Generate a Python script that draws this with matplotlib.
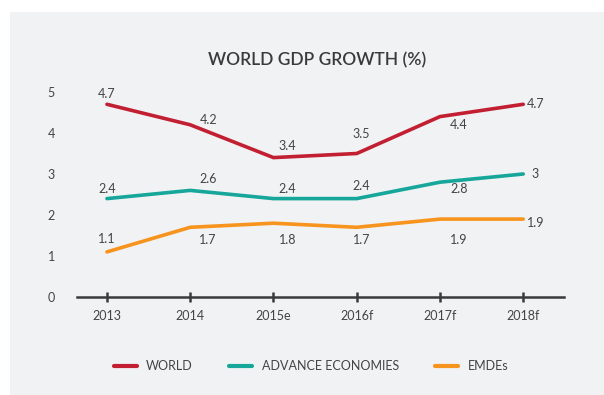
import matplotlib
matplotlib.use("Agg")
import matplotlib.pyplot as plt
from matplotlib.patches import Rectangle

# ---- data ----
years = ["2013", "2014", "2015e", "2016f", "2017f", "2018f"]
world = [4.7, 4.2, 3.4, 3.5, 4.4, 4.7]
advanced = [2.4, 2.6, 2.4, 2.4, 2.8, 3.0]
emdes = [1.1, 1.7, 1.8, 1.7, 1.9, 1.9]
series_names = ["WORLD", "ADVANCE ECONOMIES", "EMDEs"]
y_ticks = [0, 1, 2, 3, 4, 5]

# ---- styling ----
plt.rcParams["font.family"] = ["Lato", "DejaVu Sans"]
BG = "#f1f2f4"
TEXT = "#444444"
colors = ["#c21f32", "#17a79a", "#f7941e"]

# label offsets (pixels) relative to each point
offsets = [
    [(0, 10, "center"), (18, 5, "center"), (14, 12, "center"), (5, 19, "center"), (19, -8, "center"), (4, 0, "left")],
    [(0, 10, "center"), (18, 11, "center"), (14, 10, "center"), (5, 13, "center"), (19, -7, "center"), (8, 0, "left")],
    [(0, 13, "center"), (18, -13, "center"), (14, -17, "center"), (5, -13, "center"), (19, -21, "center"), (4, -4, "left")],
]

W, H = 604, 395
fig = plt.figure(figsize=(W / 100, H / 100), dpi=100)
fig.patch.set_facecolor("white")
fig.patches.append(Rectangle((10 / W, 0), 1 - 10 / W, 1 - 12 / H,
                             transform=fig.transFigure, facecolor=BG,
                             edgecolor="none", zorder=-10))

ax_left, ax_right = 77 / W, 564 / W
ax_bottom = (H - 297) / H
ax_top = (H - (297 - 5.2 * 41)) / H
ax = fig.add_axes([ax_left, ax_bottom, ax_right - ax_left, ax_top - ax_bottom])
ax.set_facecolor("none")

x = list(range(len(years)))
for vals, name, col, offs in zip([world, advanced, emdes], series_names, colors, offsets):
    ax.plot(x, vals, color=col, lw=2.6, solid_capstyle="round",
            solid_joinstyle="miter", label=name, zorder=3)
    for xi, v, (dx, dy, ha) in zip(x, vals, offs):
        txt = f"{v:g}"
        ax.annotate(txt, (xi, v), xytext=(dx, dy), textcoords="offset pixels",
                    ha=ha, va="center", fontsize=9, color=TEXT)

ax.set_xlim(-0.36, 5.49)
ax.set_ylim(0, 5.2)
ax.set_xticks(x)
ax.set_xticklabels(years)
ax.set_yticks(y_ticks)
ax.set_yticklabels([str(t) for t in y_ticks])

for s in ["top", "right", "left"]:
    ax.spines[s].set_visible(False)
ax.spines["bottom"].set_color("#3a3a3a")
ax.spines["bottom"].set_linewidth(1.8)
ax.tick_params(axis="x", direction="inout", length=7, width=1.8,
               color="#3a3a3a", labelsize=9, labelcolor=TEXT, pad=6)
ax.tick_params(axis="y", length=0, labelsize=9, labelcolor=TEXT, pad=16)

fig.text(317 / W, (H - 60) / H, "WORLD GDP GROWTH (%)", ha="center", va="center",
         fontsize=12.5, fontweight="semibold", color="#3a3a3a")

leg = fig.legend(loc="center", bbox_to_anchor=(311 / W, (H - 366) / H), ncol=3,
                 frameon=False, fontsize=9, handlelength=1.85, handletextpad=0.75,
                 columnspacing=2.9, labelcolor=TEXT)
for line in leg.get_lines():
    line.set_linewidth(3)

fig.savefig("out.png", dpi=100, facecolor=fig.get_facecolor())
